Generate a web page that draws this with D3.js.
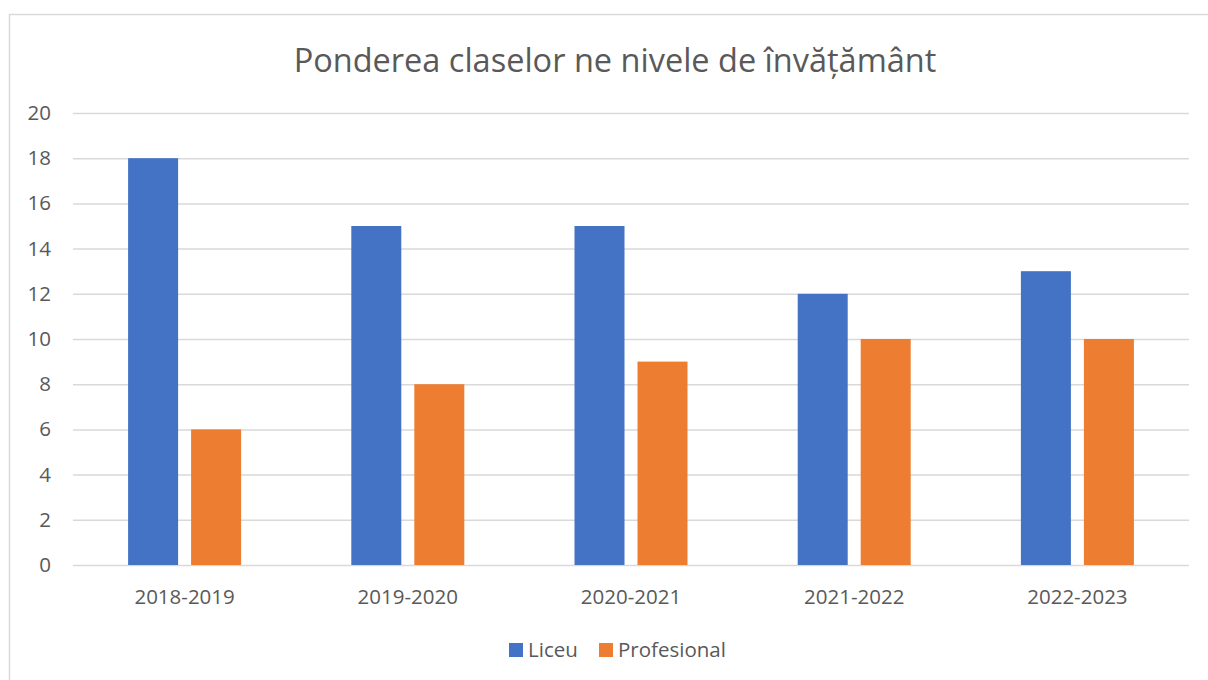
<!DOCTYPE html>
<html>
<head>
<meta charset="utf-8">
<script src="https://cdn.jsdelivr.net/npm/d3@7"></script>
<style>
  body { margin: 0; background: white; }
  text { font-family: "Open Sans", "Noto Sans", sans-serif; fill: #595959; }
</style>
</head>
<body>
<script>
const years = ['2018-2019', '2019-2020', '2020-2021', '2021-2022', '2022-2023']
const seriesNames = ['Liceu', 'Profesional']
const liceu = [18, 15, 15, 12, 13]
const profesional = [6, 8, 9, 10, 10]
const yTicks = [0, 2, 4, 6, 8, 10, 12, 14, 16, 18, 20]
const colors = ['#4472c4', '#ed7d31']

function main(){
    const width = 1208, height = 680
    const margin = {top: 113, right: 19, bottom: 115, left: 73}

    let svg = d3.select('body')
        .append('svg')
        .attr('width', width)
        .attr('height', height)

    // chart border
    svg.append('rect')
        .attr('x', 9.5).attr('y', 14.5)
        .attr('width', 1220).attr('height', 700)
        .attr('fill', 'white')
        .attr('stroke', '#d9d9d9')
        .attr('stroke-width', 1.5)

    let xScale = d3.scaleBand()
        .domain(years)
        .range([margin.left, width - margin.right])
    let yScale = d3.scaleLinear()
        .domain([0, 20])
        .range([height - margin.bottom, margin.top])

    // gridlines + y labels
    let yAxis = svg.append('g')
        .attr('transform', `translate(${margin.left},0)`)
        .call(d3.axisLeft(yScale)
            .tickValues(yTicks)
            .tickSize(-(width - margin.left - margin.right))
            .tickPadding(22))
    yAxis.select('.domain').remove()
    yAxis.selectAll('line').attr('stroke', '#d9d9d9').attr('stroke-width', 1.5)
    yAxis.selectAll('text')
        .attr('font-size', '20.5px')
        .attr('fill', '#595959')
        .style('font-family', '"Open Sans", sans-serif')

    // x labels
    let xAxis = svg.append('g')
        .attr('transform', `translate(0,${height - margin.bottom})`)
        .call(d3.axisBottom(xScale).tickSize(0).tickPadding(24))
    xAxis.select('.domain').remove()
    xAxis.selectAll('text')
        .attr('font-size', '20.5px')
        .attr('fill', '#595959')
        .style('font-family', '"Open Sans", sans-serif')

    let barW = 50, gap = 13
    let inner = d3.scaleOrdinal().domain(seriesNames)
        .range([-(barW + gap / 2) , gap / 2])
    let rows = years.map((y, i) => ({year: y, vals: [liceu[i], profesional[i]]}))

    svg.append('g').selectAll('g')
        .data(rows)
        .enter()
        .append('g')
        .selectAll('rect')
        .data(d => d.vals.map((v, j) => ({year: d.year, s: seriesNames[j], v: v, j: j})))
        .enter()
        .append('rect')
        .attr('x', d => xScale(d.year) + xScale.bandwidth() / 2 + inner(d.s))
        .attr('y', d => yScale(d.v))
        .attr('width', barW)
        .attr('height', d => yScale(0) - yScale(d.v))
        .attr('fill', d => colors[d.j])

    // title
    svg.append('text')
        .attr('x', 615)
        .attr('y', 72)
        .attr('text-anchor', 'middle')
        .attr('font-size', '32.5px')
        .text('Ponderea claselor ne nivele de învățământ')

    // legend
    let legend = svg.append('g')
    let lx = [509, 599]
    seriesNames.forEach((n, i) => {
        legend.append('rect')
            .attr('x', lx[i]).attr('y', 643)
            .attr('width', 14).attr('height', 14)
            .attr('fill', colors[i])
        legend.append('text')
            .attr('x', lx[i] + 19).attr('y', 657)
            .attr('font-size', '20.5px')
            .text(n)
    })
}

main()
</script>
</body>
</html>
